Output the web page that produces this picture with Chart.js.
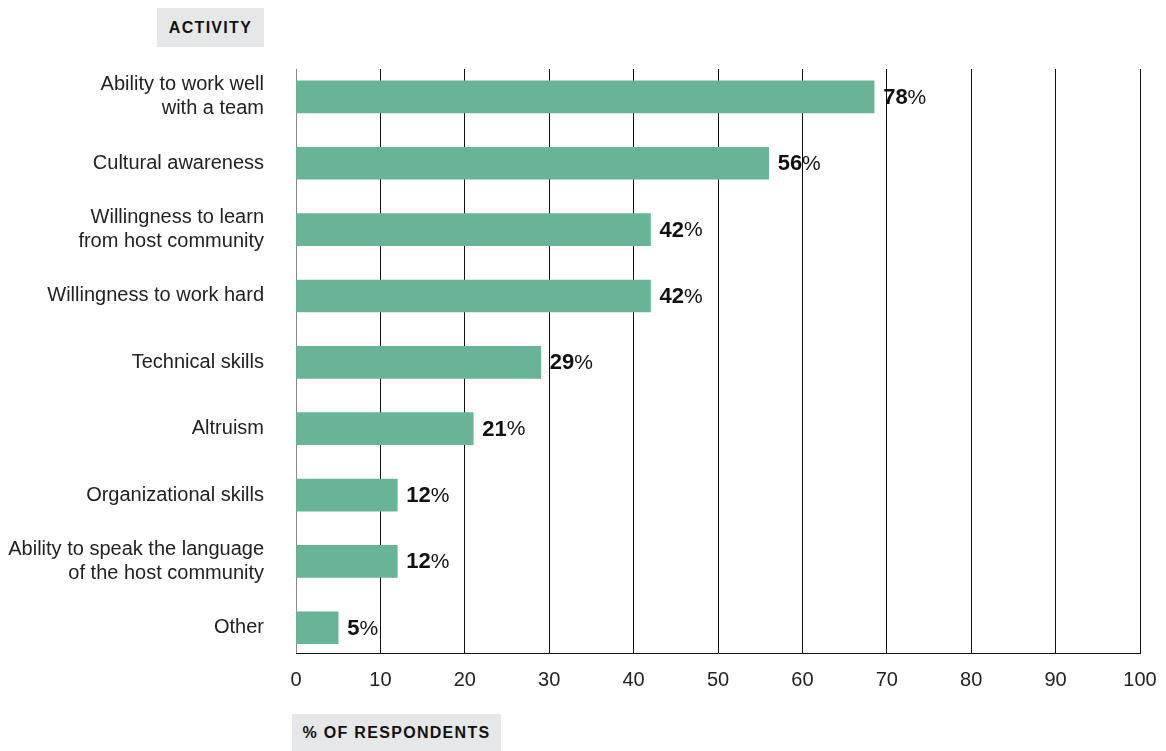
<!DOCTYPE html>
<html>

<head>
    <style>
        body {
            margin: 0;
            background: #fff;
            font-family: "Liberation Sans", Arial, sans-serif;
        }

        #wrap {
            position: relative;
            width: 1166px;
            height: 751px;
        }

        .tag {
            position: absolute;
            background: #e6e7e8;
            color: #111;
            font-weight: bold;
            font-size: 16px;
            letter-spacing: 1.3px;
            display: flex;
            align-items: center;
            justify-content: center;
        }
    </style>
</head>

<body>
    <div id="wrap">
        <canvas id="chart"></canvas>
        <div class="tag" style="left:157px;top:8px;width:107px;height:39px;">ACTIVITY</div>
        <div class="tag" style="left:292px;top:714px;width:209px;height:37px;">% OF RESPONDENTS</div>
    </div>

    <script src="https://cdn.jsdelivr.net/npm/chart.js@4/dist/chart.umd.min.js"></script>
    <script>
        const categories = [
            ['Ability to work well', 'with a team'],
            'Cultural awareness',
            ['Willingness to learn', 'from host community'],
            'Willingness to work hard',
            'Technical skills',
            'Altruism',
            'Organizational skills',
            ['Ability to speak the language', 'of the host community'],
            'Other'
        ];
        // bar lengths as drawn in the picture
        const barValues = [68.5, 56, 42, 42, 29, 21, 12, 12, 5];
        // printed value labels
        const valueLabels = ['78', '56', '42', '42', '29', '21', '12', '12', '5'];
        const xTicks = [0, 10, 20, 30, 40, 50, 60, 70, 80, 90, 100];

        const valueLabelPlugin = {
            id: 'valueLabels',
            afterDatasetsDraw(chart) {
                const ctx = chart.ctx;
                const meta = chart.getDatasetMeta(0);
                ctx.save();
                ctx.textBaseline = 'middle';
                ctx.fillStyle = '#111';
                meta.data.forEach((bar, i) => {
                    let x = bar.x + 9;
                    ctx.font = 'bold 22px "Liberation Sans", Arial, sans-serif';
                    ctx.fillText(valueLabels[i], x, bar.y + 1);
                    x += ctx.measureText(valueLabels[i]).width;
                    ctx.font = '21px "Liberation Sans", Arial, sans-serif';
                    ctx.fillText('%', x, bar.y + 1);
                });
                ctx.restore();
            }
        };

        new Chart(document.getElementById('chart'), {
            type: 'bar',
            data: {
                datasets: [{
                    data: barValues.map((v, i) => ({ x: v, y: i })),
                    backgroundColor: '#69b496',
                    barThickness: 32
                }]
            },
            options: {
                indexAxis: 'y',
                responsive: true,
                maintainAspectRatio: false,
                animation: false,
                layout: { padding: { top: 69, right: 26, left: 0, bottom: 0 } },
                plugins: {
                    legend: { display: false },
                    tooltip: { enabled: false }
                },
                scales: {
                    x: {
                        type: 'linear',
                        min: 0,
                        max: 100,
                        afterBuildTicks: scale => { scale.ticks = xTicks.map(v => ({ value: v })); },
                        afterFit: scale => {
                            scale.height = 98;
                            scale.paddingLeft = 0;
                            scale.paddingRight = 0;
                        },
                        grid: {
                            drawTicks: false,
                            color: c => c.tick && c.tick.value === 0 ? '#888' : '#111',
                            lineWidth: 1
                        },
                        border: { display: true, color: '#111', width: 1 },
                        ticks: {
                            padding: 15,
                            color: '#222',
                            font: { size: 20, family: '"Liberation Sans", Arial, sans-serif' }
                        }
                    },
                    y: {
                        type: 'linear',
                        reverse: true,
                        offset: false,
                        min: -0.42,
                        max: 8.38,
                        afterBuildTicks: scale => { scale.ticks = categories.map((c, i) => ({ value: i })); },
                        afterFit: scale => {
                            scale.width = 296;
                            scale.paddingTop = 0;
                            scale.paddingBottom = 0;
                        },
                        grid: { display: false, drawTicks: false, offset: false },
                        border: { display: false },
                        ticks: {
                            padding: 32,
                            color: '#222',
                            font: { size: 20, family: '"Liberation Sans", Arial, sans-serif', lineHeight: 1.2 },
                            callback: value => categories[value]
                        }
                    }
                }
            },
            plugins: [valueLabelPlugin]
        });
    </script>
</body>

</html>
